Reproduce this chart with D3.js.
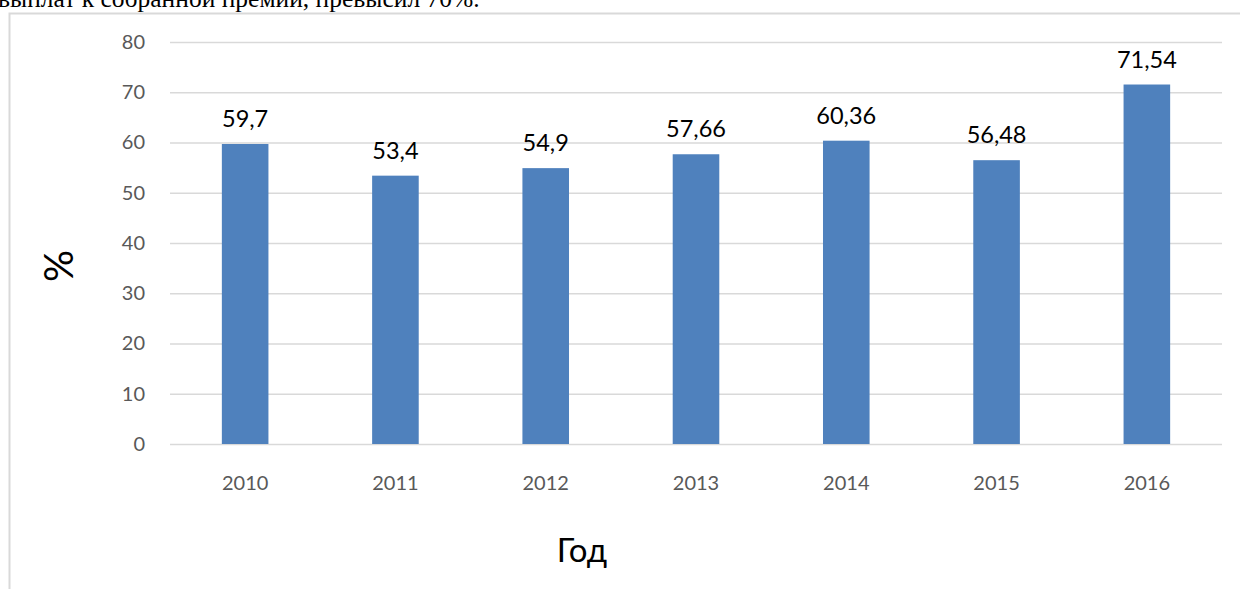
<!DOCTYPE html>
<html>
<head>
<meta charset="utf-8">
<script src="https://cdn.jsdelivr.net/npm/d3@7"></script>
<style>
  html, body { margin: 0; padding: 0; background: #fff; overflow: hidden; }
</style>
</head>
<body>
<div id="chart"></div>
<script>
// data
const years = ["2010", "2011", "2012", "2013", "2014", "2015", "2016"];
const values = [59.7, 53.4, 54.9, 57.66, 60.36, 56.48, 71.54];
const valueLabels = ["59,7", "53,4", "54,9", "57,66", "60,36", "56,48", "71,54"];
const yTicks = [0, 10, 20, 30, 40, 50, 60, 70, 80];

const width = 1240, height = 589;
const plot = { left: 170, right: 1222, top: 42, bottom: 444 };

const svg = d3.select("#chart").append("svg")
  .attr("width", width)
  .attr("height", height);

// leftover line of document text above the chart (clipped at the top, as in the source)
svg.append("text")
  .attr("x", -2)
  .attr("y", 7)
  .attr("font-family", "'Liberation Serif', 'Times New Roman', serif")
  .attr("font-size", 25.5)
  .attr("fill", "#000")
  .text("выплат к собранной премии, превысил 70%.");

// chart frame (runs off right and bottom)
svg.append("rect")
  .attr("x", 9.5)
  .attr("y", 13.5)
  .attr("width", 1300)
  .attr("height", 700)
  .attr("fill", "none")
  .attr("stroke", "#d9d9d9")
  .attr("stroke-width", 2);

const x = d3.scaleBand()
  .domain(years)
  .range([plot.left, plot.right])
  .paddingInner(0.69)
  .paddingOuter(0.345);

const y = d3.scaleLinear()
  .domain([0, 80])
  .range([plot.bottom, plot.top]);

const font = "Lato, 'Open Sans', sans-serif";

// gridlines + y tick labels
const yAxis = d3.axisLeft(y)
  .tickValues(yTicks)
  .tickSize(-(plot.right - plot.left))
  .tickPadding(25);

const gy = svg.append("g")
  .attr("transform", `translate(${plot.left},0)`)
  .call(yAxis);
gy.select(".domain").remove();
gy.selectAll(".tick line")
  .attr("stroke", "#d9d9d9")
  .attr("stroke-width", 1.5);
gy.selectAll(".tick text")
  .attr("fill", "#595959")
  .attr("font-family", font)
  .attr("font-size", 20);

// x tick labels
const xAxis = d3.axisBottom(x).tickSize(0).tickPadding(32);
const gx = svg.append("g")
  .attr("transform", `translate(0,${plot.bottom})`)
  .call(xAxis);
gx.select(".domain").remove();
gx.selectAll(".tick text")
  .attr("fill", "#595959")
  .attr("font-family", font)
  .attr("font-size", 20);

// bars
svg.append("g").selectAll("rect")
  .data(values)
  .join("rect")
  .attr("x", (d, i) => x(years[i]))
  .attr("y", d => y(d))
  .attr("width", x.bandwidth())
  .attr("height", d => plot.bottom - y(d))
  .attr("fill", "#4f81bd");

// value labels
svg.append("g").selectAll("text")
  .data(values)
  .join("text")
  .attr("x", (d, i) => x(years[i]) + x.bandwidth() / 2)
  .attr("y", d => y(d) - 17)
  .attr("text-anchor", "middle")
  .attr("font-family", font)
  .attr("font-size", 23.5)
  .attr("fill", "#000")
  .text((d, i) => valueLabels[i]);

// axis titles
svg.append("text")
  .attr("transform", "translate(73,266) rotate(-90)")
  .attr("text-anchor", "middle")
  .attr("font-family", font)
  .attr("font-size", 40)
  .attr("fill", "#000")
  .text("%");

svg.append("text")
  .attr("x", 582)
  .attr("y", 562)
  .attr("text-anchor", "middle")
  .attr("font-family", font)
  .attr("font-size", 33)
  .attr("fill", "#000")
  .text("Год");
</script>
</body>
</html>
